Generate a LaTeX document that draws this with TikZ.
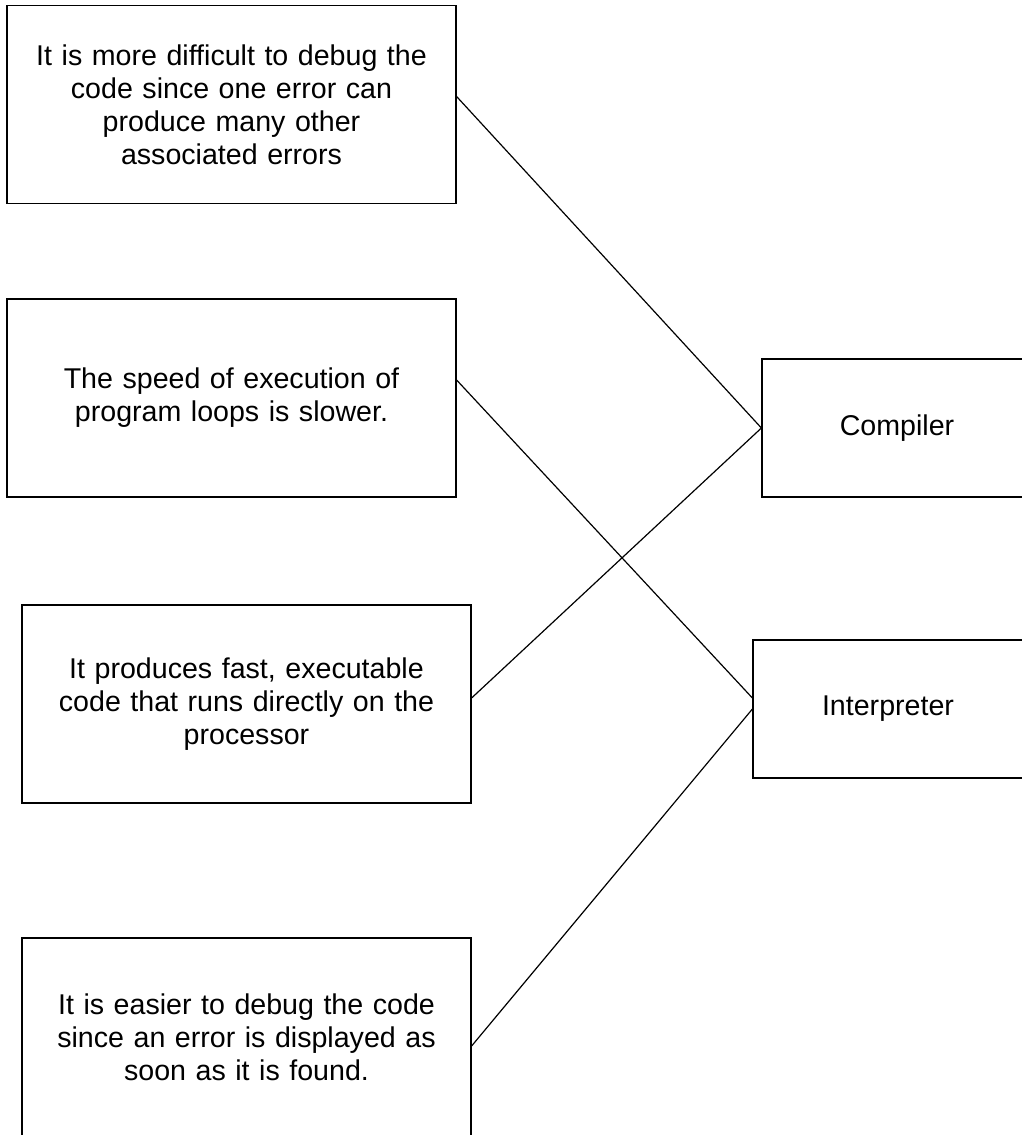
\documentclass[tikz,border=0pt]{standalone}
\usepackage{fontspec}
\setmainfont{Liberation Sans}

\begin{document}
\begin{tikzpicture}[x=1pt,y=-1pt,-,line width=1.2pt,main node/.style={rectangle,draw,align=center,inner sep=0pt,font=\fontsize{28.6}{33}\selectfont},left node/.style={main node,minimum width=449pt,minimum height=198pt,text width=430pt},right node/.style={main node,minimum width=270pt,minimum height=138pt}]

            \useasboundingbox (0,0) rectangle (1022,1135);

            \node[left node] (1) at (231.5,104.5) {It is more difficult to debug the\\code since one error can\\produce many other\\associated errors};
            \node[left node] (2) at (231.5,398) {The speed of execution of\\program loops is slower.};
            \node[left node] (3) at (246.5,704) {It produces fast, executable\\code that runs directly on the\\processor};
            \node[left node] (4) at (246.5,1037) {It is easier to debug the code\\since an error is displayed as\\soon as it is found.};
            \node[right node] (5) at (897,428) {Compiler};
            \node[right node] (6) at (888,709) {Interpreter};

            \draw[-] ([yshift=8pt]1.east) to (5.west);
            \draw[-] ([yshift=18pt]2.east) to ([yshift=11pt]6.west);
            \draw[-] ([yshift=6pt]3.east) to (5.west);
            \draw[-] ([yshift=-9pt]4.east) to (6.west);

            ;
        \end{tikzpicture}
\end{document}
